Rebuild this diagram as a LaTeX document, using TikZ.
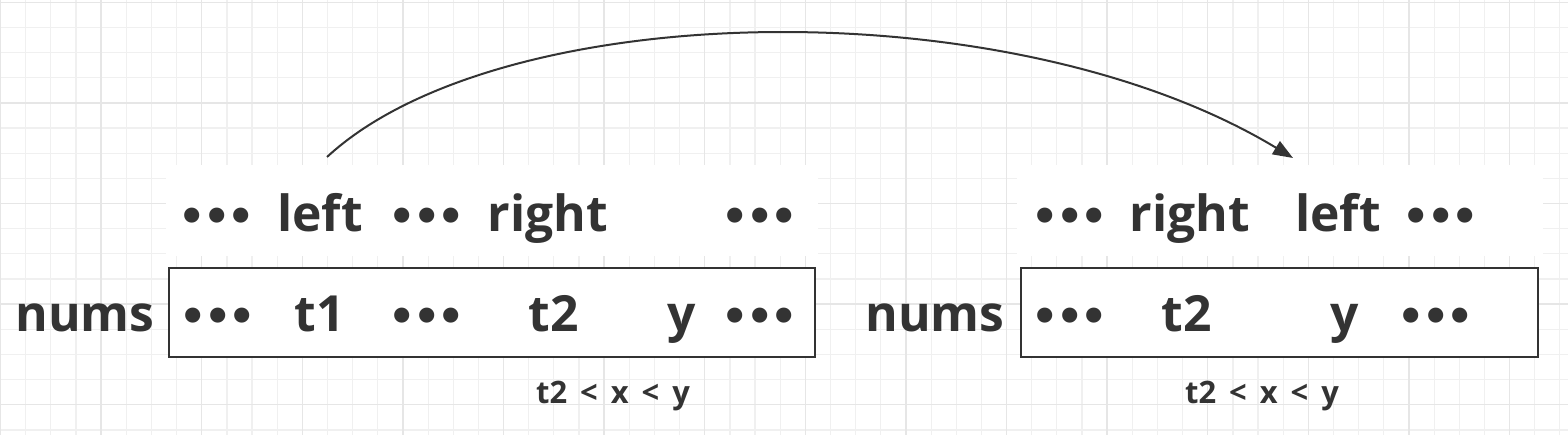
\documentclass[tikz,border=0pt]{standalone}
\usepackage{fontspec}
\setmainfont{Open Sans}
\newfontfamily\dejavu{DejaVu Sans}
\usetikzlibrary{arrows.meta}
\definecolor{ink}{HTML}{333333}
\definecolor{gridminor}{HTML}{F0F0F0}
\definecolor{gridmajor}{HTML}{E6E6E6}
\newcommand{\threedots}{•\kern-3bp•\kern-3bp•}
\newcommand{\gap}{\hspace{13bp}}
\tikzset{
  big/.style={text=ink, font=\fontsize{50}{60}\selectfont\bfseries, anchor=base, inner sep=0pt},
  dots/.style={text=ink, font=\dejavu\fontsize{43}{50}\selectfont\bfseries, anchor=base, inner sep=0pt},
  small/.style={text=ink, font=\fontsize{31}{36}\selectfont\bfseries, anchor=base, inner sep=0pt},
  whitebox/.style={fill=white, draw=none},
  arrbox/.style={draw=ink, line width=2bp, fill=white},
  link/.style={draw=ink, line width=2bp, -{Triangle[length=20bp,width=15bp]}}
}
\begin{document}
\begin{tikzpicture}[x=1bp,y=-1bp]
\useasboundingbox (0,0) rectangle (1568,435);
\fill[white] (0,0) rectangle (1568,435);
% grid
\foreach \i in {0,...,62} {
  \pgfmathsetmacro{\xx}{0.55+25.15*\i}
  \draw[gridminor, line width=1.2bp] (\xx,0) -- (\xx,435);
}
\foreach \i in {0,...,17} {
  \pgfmathsetmacro{\yy}{2.35+25.15*\i}
  \draw[gridminor, line width=1.2bp] (0,\yy) -- (1568,\yy);
}
\foreach \i in {0,...,15} {
  \pgfmathsetmacro{\xx}{0.55+100.6*\i}
  \draw[gridmajor, line width=1.4bp] (\xx,0) -- (\xx,435);
}
\foreach \i in {0,...,4} {
  \pgfmathsetmacro{\yy}{2.35+100.6*\i}
  \draw[gridmajor, line width=1.4bp] (0,\yy) -- (1568,\yy);
}
% white backgrounds of label rows
\fill[whitebox] (166,165) rectangle (818,256);
\fill[whitebox] (1017,165) rectangle (1543,256);
% array boxes
\draw[arrbox] (169,268) rectangle (815,357);
\draw[arrbox] (1021,268) rectangle (1538,357);

% left part, pointer row
\node[dots] (l1) at (217,232) {\threedots};
\node[big] (lleft) at (320,232) {left};
\node[dots] (l2) at (427,232) {\threedots};
\node[big] (lright) at (548,232) {right};
\node[dots] (l3) at (760,232) {\threedots};
% left part, array row
\node[big] (lnums) at (85,332) {nums};
\node[dots] (a1) at (218,332) {\threedots};
\node[big] (at1) at (320,332) {t1};
\node[dots] (a2) at (427,332) {\threedots};
\node[big] (at2) at (554,332) {t2};
\node[big] (ay) at (682,332) {y};
\node[dots] (a3) at (760,332) {\threedots};
\node[small] (lcond) at (613,403) {t2\gap<\gap x\gap<\gap y};

% right part, pointer row
\node[dots] (r1) at (1070,232) {\threedots};
\node[big] (rright) at (1190,232) {right};
\node[big] (rleft) at (1338,232) {left};
\node[dots] (r2) at (1441,232) {\threedots};
% right part, array row
\node[big] (rnums) at (935,332) {nums};
\node[dots] (b1) at (1070,332) {\threedots};
\node[big] (bt2) at (1187,332) {t2};
\node[big] (by) at (1345,332) {y};
\node[dots] (b2) at (1436,332) {\threedots};
\node[small] (rcond) at (1262,403) {t2\gap<\gap x\gap<\gap y};

% arc
\coordinate (s) at (327,157);
\coordinate (e) at (1293,158);
\draw[link] (s) .. controls (500,-3) and (1010,-13) .. (e);
\end{tikzpicture}
\end{document}
